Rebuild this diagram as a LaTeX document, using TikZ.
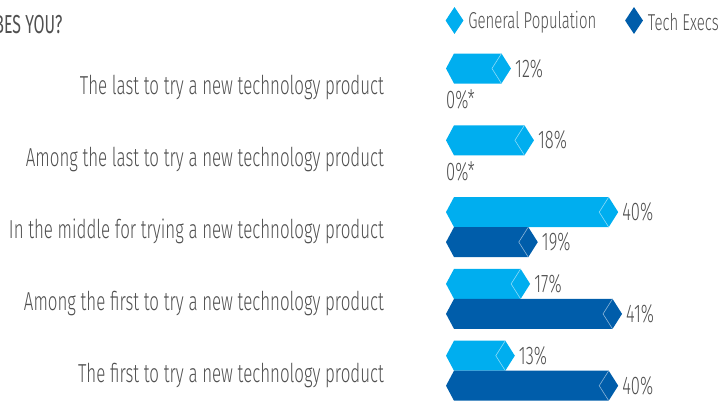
\documentclass[tikz,border=0pt]{standalone}
\usepackage{fontspec}
\setmainfont{Fira Sans Light}[FakeStretch=0.65]
\newfontfamily\headfont{Fira Sans}[FakeStretch=0.61]
\usepackage{tikz}
\usetikzlibrary{positioning}
\usetikzlibrary{shapes.geometric}
\definecolor{genpop}{HTML}{00AEEF}
\definecolor{techexec}{HTML}{005DAA}
\definecolor{txtgray}{HTML}{505050}
\tikzset{category/.style={anchor=base east,inner sep=0pt,text=txtgray,font=\fontsize{26}{26}\selectfont}}
\tikzset{pct/.style={anchor=west,inner sep=0pt,text=txtgray,font=\fontsize{25.5}{26}\selectfont}}
\tikzset{keytext/.style={anchor=west,inner sep=0pt,text=txtgray,font=\fontsize{23}{23}\selectfont}}
\tikzset{key/.style={diamond,inner sep=0pt,minimum width=18pt,minimum height=27pt}}
\tikzset{facet/.style={draw=white!55!#1,line width=0.6pt}}

% #1 label name, #2 top, #3 percent, #4 colour
\newcommand{\hexbar}[4]{%
  \pgfmathsetmacro{\tipx}{465+3.83*#3}
  \fill[#4] (446,#2+15) -- (454,#2) -- (\tipx-9.5,#2) -- (\tipx,#2+15)
    -- (\tipx-9.5,#2+30) -- (454,#2+30) -- cycle;
  \draw[facet=#4] (\tipx-9.5,#2) -- (\tipx-19,#2+15) -- (\tipx-9.5,#2+30);
  \node[pct] (#1) at (\tipx+4,#2+15) {#3\%};
}

\begin{document}
\begin{tikzpicture}[x=1pt,y=-1pt]
\useasboundingbox (0,0) rectangle (720,400);

\node[anchor=base east,inner sep=0pt,text=txtgray,font=\headfont\fontsize{26}{26}\selectfont] (title) at (62.5,33.3) {BES YOU?};

% legend
\node[key,fill=genpop] (gpkey) at (454.5,20.5) {};
\node[keytext,right=4.5pt of gpkey,yshift=-2pt] (gptext) {General Population};
\node[key,fill=techexec] (tekey) at (634,20.5) {};
\node[keytext,right=4.5pt of tekey,yshift=-2pt] (tetext) {Tech Execs};

% categories
\node[category] (cat1) at (384,94.5) {The last to try a new technology product};
\node[category] (cat2) at (384,166.3) {Among the last to try a new technology product};
\node[category] (cat3) at (384,238.6) {In the middle for trying a new technology product};
\node[category] (cat4) at (384,310.2) {Among the first to try a new technology product};
\node[category] (cat5) at (384,382) {The first to try a new technology product};

% bars
\hexbar{gp1}{53.5}{12}{genpop}
\node[pct] (te1) at (446,99.5) {0\%*};
\hexbar{gp2}{125.3}{18}{genpop}
\node[pct] (te2) at (446,171) {0\%*};
\hexbar{gp3}{197.1}{40}{genpop}
\hexbar{te3}{227.1}{19}{techexec}
\hexbar{gp4}{268.9}{17}{genpop}
\hexbar{te4}{298.9}{41}{techexec}
\hexbar{gp5}{340.7}{13}{genpop}
\hexbar{te5}{370.7}{40}{techexec}

\end{tikzpicture}
\end{document}
